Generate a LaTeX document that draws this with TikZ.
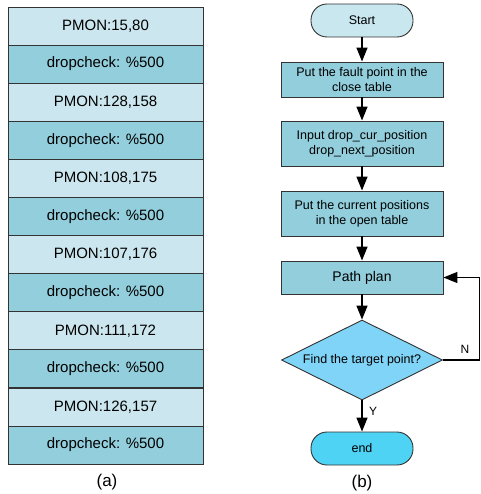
\documentclass[tikz,border=0pt]{standalone}
\usepackage{fontspec}
\setmainfont{Liberation Sans}
\usetikzlibrary{shapes.geometric,arrows.meta}
\definecolor{rowlight}{HTML}{CBE6EE}
\definecolor{rowdark}{HTML}{92CEDC}
\definecolor{startfill}{HTML}{C9E7EF}
\definecolor{boxfill}{HTML}{92CEDC}
\definecolor{decfill}{HTML}{80D4F7}
\definecolor{endfill}{HTML}{4FD3F5}
\definecolor{edge}{HTML}{333333}
\tikzset{
  row/.style={draw=edge, line width=0.9pt, minimum width=195pt, minimum height=38pt,
    inner sep=0pt, font=\fontsize{15}{17}\selectfont},
  lightrow/.style={row, fill=rowlight},
  darkrow/.style={row, fill=rowdark},
  terminal/.style={draw=edge, line width=0.9pt, rounded corners=16pt, minimum width=102pt,
    minimum height=33pt, inner sep=0pt, font=\fontsize{12.5}{15}\selectfont},
  procbox/.style={draw=edge, line width=0.9pt, fill=boxfill, minimum width=162pt,
    inner sep=0pt, align=center, font=\fontsize{12.5}{15}\selectfont},
  decision/.style={draw=edge, line width=0.9pt, fill=decfill, diamond, aspect=2,
    minimum width=161pt, minimum height=80pt, inner sep=0pt, font=\fontsize{12.5}{15}\selectfont},
  flow/.style={line width=1.4pt, -{Triangle[length=14pt,width=11pt]}},
  caption/.style={font=\fontsize{17}{20}\selectfont},
  tag/.style={font=\fontsize{12}{14}\selectfont},
}
\begin{document}
\begin{tikzpicture}[x=1pt,y=-1pt]
\useasboundingbox (0,0) rectangle (480,494);

% table of (a)
\foreach \i/\txt/\sty in {0/{PMON:15,80}/lightrow, 1/{dropcheck: \%500}/darkrow,
    2/{PMON:128,158}/lightrow, 3/{dropcheck: \%500}/darkrow,
    4/{PMON:108,175}/lightrow, 5/{dropcheck: \%500}/darkrow,
    6/{PMON:107,176}/lightrow, 7/{dropcheck: \%500}/darkrow,
    8/{PMON:111,172}/lightrow, 9/{dropcheck: \%500}/darkrow,
    10/{PMON:126,157}/lightrow, 11/{dropcheck: \%500}/darkrow}
  \node[\sty] (r\i) at (105.5, 26+38.1*\i) {\txt};
\node[caption] (capa) at (107,482) {(a)};

% flowchart of (b)
\node[terminal, fill=startfill] (start) at (362,20.5) {Start};
\node[procbox, minimum height=35pt] (b1) at (362,79.5) {Put the fault point in the\\close table};
\node[procbox, minimum height=45pt] (b2) at (362,143.5) {Input drop\_cur\_position\\drop\_next\_position};
\node[procbox, minimum height=45pt] (b3) at (362,213.5) {Put the current positions\\in the open table};
\node[procbox, minimum height=33pt, font=\fontsize{14}{16}\selectfont] (plan) at (362,277.5) {Path plan};
\node[decision] (dec) at (362,360) {Find the target point?};
\node[terminal, fill=endfill] (end) at (362,448.5) {end};
\node[caption] (capb) at (362,483) {(b)};

\coordinate (loopA) at (479.5,360);
\coordinate (loopB) at (479.5,277.5);

\draw[flow] (start) -- (b1);
\draw[flow] (b1) -- (b2);
\draw[flow] (b2) -- (b3);
\draw[flow] (b3) -- (plan);
\draw[flow] (plan) -- (dec);
\draw[flow] (dec) -- node[tag, right=3pt, pos=0.35] {Y} (end);
\draw[line width=1.4pt] (dec.east) -- node[tag, above=2pt, pos=0.6] {N} (loopA) -- (loopB);
\draw[flow] (loopB) -- (plan.east);
\end{tikzpicture}
\end{document}
